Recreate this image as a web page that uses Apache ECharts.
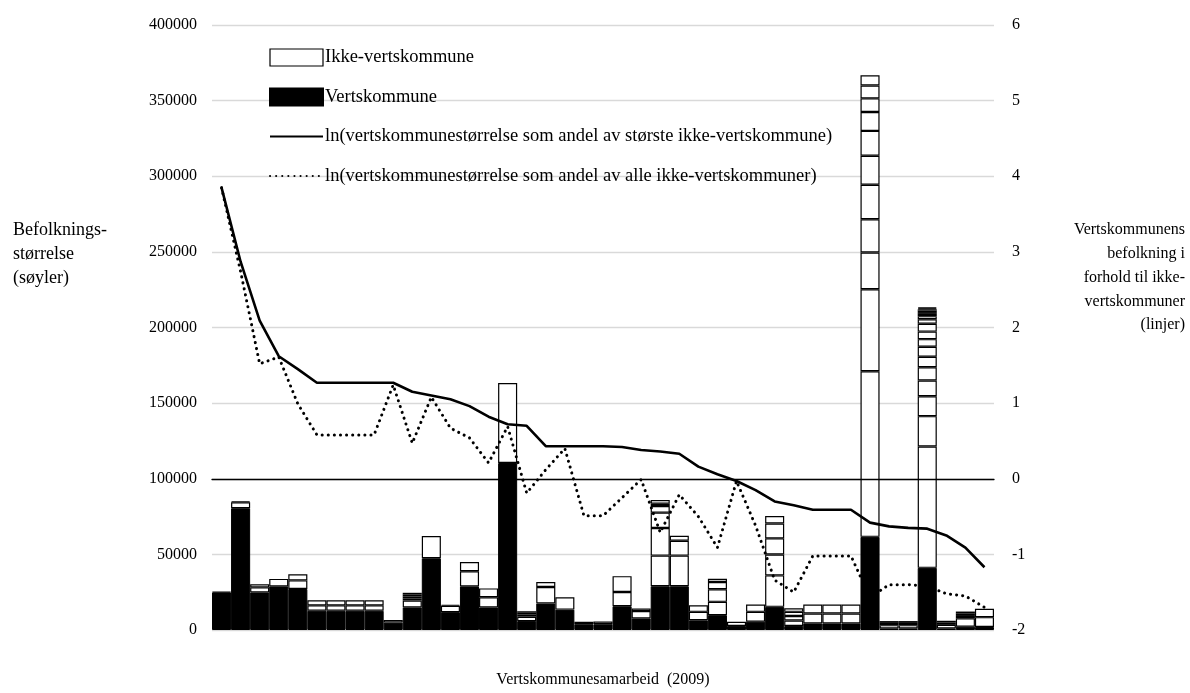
<!DOCTYPE html>
<html>
<head>
<meta charset="utf-8">
<script src="https://cdn.jsdelivr.net/npm/echarts@6/dist/echarts.min.js"></script>
<style>
  html, body { margin: 0; padding: 0; background: #fff; }
  #chart { width: 1190px; height: 693px; }
</style>
</head>
<body>
<div id="chart"></div>
<script>
// One category per host-municipality cooperation (2009)
const categories = ['1','2','3','4','5','6','7','8','9','10','11','12','13','14','15','16','17','18','19','20',
  '21','22','23','24','25','26','27','28','29','30','31','32','33','34','35','36','37','38','39','40','41'];

// Population of the host municipality (black part of each bar)
const hostPop = [24800, 80500, 24900, 28800, 27100, 12700, 12700, 12700, 12700, 4900,
  14900, 47400, 11800, 28800, 14900, 110400, 5900, 17500, 13500, 3800,
  3800, 15700, 7700, 28900, 28900, 6400, 9800, 2700, 5500, 15300,
  2600, 4400, 4400, 4400, 61600, 1100, 1100, 41100, 1100, 2200, 2000];

// Populations of the other participating municipalities, stacked from the bottom up
const otherPops = [
  [500],
  [4000, 600],
  [3300, 2000],
  [5000],
  [5700, 4100],
  [3600, 3400],
  [3600, 3400],
  [3600, 3400],
  [3600, 3400],
  [1700],
  [4500, 1400, 1300, 1300, 1200],
  [14700],
  [4200, 700],
  [10000, 6200],
  [6800, 5800],
  [52900],
  [2900, 1400, 1200, 1000],
  [10900, 3300],
  [8100],
  [1700],
  [1800],
  [9400, 10500],
  [4800, 1700],
  [20300, 18200, 10200, 4400, 1500, 2400],
  [20300, 9800, 3300],
  [5600, 4400],
  [8800, 8300, 4800, 2200],
  [2800],
  [6500, 4800],
  [20800, 13800, 10700, 9800, 5000],
  [3700, 3000, 2700, 2300],
  [6500, 5900],
  [6500, 5900],
  [6500, 5900],
  [109500, 54200, 24300, 22000, 22800, 19200, 16400, 12500, 9000, 8500, 6750],
  [2100, 1500, 1200],
  [2100, 1500, 1200],
  [80200, 20100, 13100, 10500, 8700, 7000, 6600, 5000, 5000, 5200, 3000, 2000, 1500, 1200, 1000, 800, 700, 600],
  [2300, 1500, 1200],
  [5500, 1600, 1500, 1400],
  [6500, 5500]
];

// ln(host size / largest other municipality)
const lnLargest = [3.85, 2.87, 2.09, 1.62, 1.45, 1.27, 1.27, 1.27, 1.27, 1.27,
  1.15, 1.10, 1.05, 0.96, 0.82, 0.72, 0.70, 0.43, 0.43, 0.43,
  0.43, 0.42, 0.38, 0.36, 0.33, 0.16, 0.06, -0.03, -0.15, -0.30,
  -0.35, -0.41, -0.41, -0.41, -0.58, -0.63, -0.65, -0.66, -0.75, -0.91, -1.17];

// ln(host size / all other municipalities combined)
const lnAll = [3.85, 2.74, 1.52, 1.61, 0.99, 0.58, 0.58, 0.58, 0.58, 1.24,
  0.47, 1.08, 0.67, 0.54, 0.21, 0.69, -0.19, 0.12, 0.40, -0.49,
  -0.49, -0.25, -0.01, -0.71, -0.21, -0.50, -0.91, -0.03, -0.62, -1.34,
  -1.50, -1.02, -1.02, -1.02, -1.57, -1.40, -1.40, -1.42, -1.52, -1.55, -1.70];

// Axis titles, one entry per line
const leftTitle = ['Befolknings-', 'størrelse', '(søyler)'];
const rightTitle = ['Vertskommunens', 'befolkning i', 'forhold til ikke-', 'vertskommuner', '(linjer)'];

const FONT = 'Liberation Serif';
const NAME_OTHER = 'Ikke-vertskommune';
const NAME_HOST = 'Vertskommune';
const NAME_LN1 = 'ln(vertskommunestørrelse som andel av største ikke-vertskommune)';
const NAME_LN2 = 'ln(vertskommunestørrelse som andel av alle ikke-vertskommuner)';

const series = [];
series.push({
  name: NAME_HOST,
  type: 'bar',
  stack: 'pop',
  barCategoryGap: '0%',
  itemStyle: { color: '#000', borderColor: '#000', borderWidth: 1 },
  data: hostPop
});
const maxParts = Math.max(...otherPops.map(a => a.length));
for (let k = 0; k < maxParts; k++) {
  series.push({
    name: NAME_OTHER,
    type: 'bar',
    stack: 'pop',
    barCategoryGap: '0%',
    itemStyle: { color: '#fff', borderColor: '#000', borderWidth: 1.2 },
    data: otherPops.map(a => (k < a.length ? a[k] : '-'))
  });
}
series.push({
  name: NAME_LN2,
  type: 'line',
  yAxisIndex: 1,
  symbol: 'none',
  itemStyle: { color: '#000' },
  lineStyle: { color: '#000', width: 3, type: [0.1, 6], cap: 'round' },
  data: lnAll
});
series.push({
  name: NAME_LN1,
  type: 'line',
  yAxisIndex: 1,
  symbol: 'none',
  itemStyle: { color: '#000' },
  lineStyle: { color: '#000', width: 2.6 },
  data: lnLargest
});

const graphics = [];
leftTitle.forEach((t, i) => {
  graphics.push({
    type: 'text', left: 13, top: 221 + i * 24,
    style: { text: t, font: '18px "Liberation Serif"', fill: '#000' }
  });
});
rightTitle.forEach((t, i) => {
  graphics.push({
    type: 'text', right: 5, top: 222 + i * 23.8,
    style: { text: t, font: '16px "Liberation Serif"', fill: '#000' }
  });
});

const chart = echarts.init(document.getElementById('chart'), null, { renderer: 'canvas' });
chart.setOption({
  animation: false,
  backgroundColor: '#fff',
  textStyle: { fontFamily: FONT, color: '#000' },
  grid: { left: 212, right: 196, top: 25, bottom: 58 },
  legend: {
    orient: 'vertical',
    left: 264,
    top: 43,
    itemWidth: 53,
    itemHeight: 17,
    itemGap: 20.5,
    selectedMode: false,
    textStyle: { fontFamily: FONT, fontSize: 18.5, color: '#000', padding: [0, 0, 0, -3] },
    data: [
      { name: NAME_OTHER, icon: 'rect', itemStyle: { color: '#fff', borderColor: '#000', borderWidth: 1.2 } },
      { name: NAME_HOST, icon: 'rect' },
      { name: NAME_LN1, itemStyle: { opacity: 0 } },
      { name: NAME_LN2, itemStyle: { opacity: 0 } }
    ]
  },
  xAxis: {
    type: 'category',
    data: categories,
    z: 5,
    axisLine: { onZero: true, onZeroAxisIndex: 1, lineStyle: { color: '#000', width: 1.3 } },
    axisTick: { show: false },
    axisLabel: { show: false },
    name: 'Vertskommunesamarbeid  (2009)',
    nameLocation: 'middle',
    nameGap: 42,
    nameTextStyle: { fontFamily: FONT, fontSize: 16, color: '#000' }
  },
  yAxis: [
    {
      type: 'value',
      min: 0,
      max: 400000,
      interval: 50000,
      axisLine: { show: false },
      axisTick: { show: false },
      axisLabel: { fontFamily: FONT, fontSize: 16, color: '#000', margin: 15, formatter: v => String(v) },
      splitLine: { lineStyle: { color: '#d9d9d9', width: 1.3 } }
    },
    {
      type: 'value',
      min: -2,
      max: 6,
      interval: 1,
      axisLine: { show: false },
      axisTick: { show: false },
      axisLabel: { fontFamily: FONT, fontSize: 16, color: '#000', margin: 18 },
      splitLine: { show: false }
    }
  ],
  graphic: graphics,
  series: series
});
</script>
</body>
</html>
